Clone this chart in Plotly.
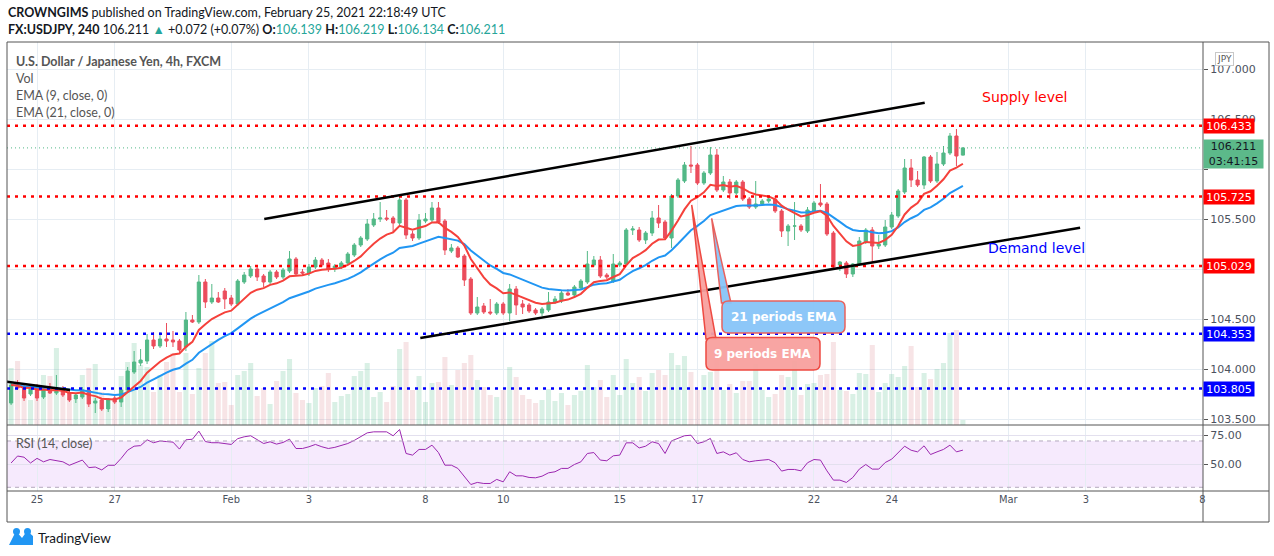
import pandas as pd
import plotly.graph_objects as go

# bar index: 0 = first 4h bar of Jan 25 (6 bars per trading day)
bars = list(range(-4, 144))

opens = [103.66, 103.84, 103.82, 103.75,
         103.82, 103.72, 103.81, 103.76, 103.80, 103.76, 103.70, 103.72, 103.79, 103.66,
         103.69, 103.60, 103.71, 103.67, 103.79, 103.97, 104.06, 104.08, 104.29, 104.23,
         104.30, 104.29, 104.28, 104.22, 104.49, 104.47, 104.87, 104.67, 104.71, 104.78,
         104.71, 104.65, 104.87, 104.93, 105.00, 104.93, 104.87, 104.97, 104.92, 104.98,
         105.10, 104.97, 104.96, 105.02, 105.09, 105.06, 105.00, 105.02, 105.06, 105.14,
         105.24, 105.30, 105.44, 105.50, 105.51, 105.51, 105.46, 105.69, 105.35, 105.31,
         105.48, 105.49, 105.61, 105.48, 105.18, 105.21, 105.13, 104.90, 104.56, 104.63,
         104.57, 104.56, 104.65, 104.56, 104.80, 104.65, 104.64, 104.59, 104.56, 104.59,
         104.67, 104.68, 104.76, 104.74, 104.81, 104.87, 105.04, 105.09, 104.94, 104.88,
         105.04, 105.05, 105.39, 105.39, 105.29, 105.36, 105.51, 105.47, 105.31, 105.73,
         105.88, 106.04, 106.04, 105.86, 105.96, 106.14, 105.79, 105.87, 105.76, 105.87,
         105.70, 105.62, 105.65, 105.68, 105.70, 105.58, 105.38, 105.43, 105.43, 105.38,
         105.58, 105.66, 105.65, 105.36, 105.04, 105.06, 104.95, 105.05, 105.27, 105.39,
         105.23, 105.24, 105.42, 105.53, 105.77, 106.01, 105.89, 105.84, 106.12, 105.88,
         106.05, 106.16, 106.33, 106.139]
highs = [103.86, 103.89, 103.84, 103.85,
         103.85, 103.82, 103.86, 103.94, 103.83, 103.78, 103.76, 103.82, 103.81, 103.71,
         103.71, 103.71, 103.73, 103.80, 104.02, 104.18, 104.20, 104.35, 104.37, 104.37,
         104.46, 104.38, 104.30, 104.57, 104.54, 104.94, 104.90, 104.85, 104.77, 104.81,
         104.74, 104.90, 104.97, 105.03, 105.02, 104.95, 104.99, 104.99, 105.01, 105.18,
         105.12, 105.00, 105.05, 105.12, 105.11, 105.10, 105.05, 105.08, 105.17, 105.26,
         105.33, 105.50, 105.56, 105.67, 105.59, 105.53, 105.74, 105.71, 105.38, 105.55,
         105.56, 105.67, 105.67, 105.50, 105.25, 105.23, 105.15, 104.92, 104.72, 104.66,
         104.70, 104.67, 104.67, 104.85, 104.83, 104.69, 104.66, 104.61, 104.62, 104.77,
         104.73, 104.79, 104.80, 104.84, 104.90, 105.18, 105.13, 105.13, 104.96, 105.15,
         105.08, 105.41, 105.43, 105.42, 105.38, 105.58, 105.64, 105.49, 105.75, 105.91,
         106.07, 106.23, 106.06, 105.98, 106.22, 106.20, 105.93, 105.90, 105.89, 105.89,
         105.72, 105.88, 105.70, 105.72, 105.73, 105.60, 105.45, 105.67, 105.45, 105.62,
         105.68, 105.85, 105.67, 105.38, 105.08, 105.08, 105.06, 105.32, 105.41, 105.42,
         105.34, 105.49, 105.57, 105.80, 106.10, 106.10, 105.98, 106.13, 106.14, 106.17,
         106.23, 106.36, 106.40, 106.219]
lows = [103.64, 103.79, 103.68, 103.73,
        103.68, 103.70, 103.75, 103.74, 103.72, 103.67, 103.66, 103.70, 103.62, 103.56,
        103.58, 103.57, 103.65, 103.62, 103.77, 103.95, 104.03, 104.05, 104.20, 104.21,
        104.22, 104.22, 104.16, 104.18, 104.46, 104.45, 104.61, 104.65, 104.66, 104.60,
        104.63, 104.63, 104.85, 104.91, 104.88, 104.82, 104.85, 104.90, 104.90, 104.96,
        104.93, 104.94, 104.93, 105.00, 105.02, 104.97, 104.97, 105.00, 105.04, 105.12,
        105.22, 105.28, 105.42, 105.47, 105.48, 105.36, 105.44, 105.30, 105.28, 105.29,
        105.46, 105.47, 105.45, 105.14, 105.16, 105.11, 104.83, 104.54, 104.54, 104.55,
        104.54, 104.54, 104.54, 104.48, 104.54, 104.55, 104.56, 104.54, 104.53, 104.57,
        104.65, 104.66, 104.73, 104.71, 104.79, 104.85, 105.02, 104.91, 104.90, 104.86,
        105.02, 105.03, 105.34, 105.27, 105.25, 105.33, 105.41, 105.29, 105.21, 105.71,
        105.86, 105.96, 105.84, 105.84, 105.94, 105.77, 105.77, 105.70, 105.74, 105.68,
        105.60, 105.60, 105.63, 105.66, 105.56, 105.32, 105.23, 105.29, 105.37, 105.36,
        105.56, 105.62, 105.33, 104.99, 104.98, 104.91, 104.92, 105.03, 105.25, 105.07,
        105.20, 105.22, 105.40, 105.51, 105.75, 105.82, 105.82, 105.80, 105.86, 105.86,
        106.03, 106.14, 106.03, 106.134]
closes = [103.84, 103.81, 103.71, 103.83,
          103.71, 103.80, 103.76, 103.80, 103.74, 103.69, 103.74, 103.79, 103.65, 103.68,
          103.60, 103.70, 103.67, 103.79, 103.98, 104.07, 104.09, 104.29, 104.23, 104.30,
          104.28, 104.27, 104.19, 104.49, 104.47, 104.87, 104.67, 104.71, 104.67, 104.70,
          104.65, 104.88, 104.94, 105.00, 104.92, 104.87, 104.97, 104.92, 104.99, 105.10,
          104.95, 104.96, 105.02, 105.09, 105.04, 105.00, 105.03, 105.06, 105.15, 105.24,
          105.31, 105.45, 105.50, 105.51, 105.50, 105.46, 105.69, 105.34, 105.31, 105.49,
          105.50, 105.61, 105.47, 105.19, 105.21, 105.12, 104.89, 104.56, 104.62, 104.57,
          104.56, 104.65, 104.56, 104.80, 104.64, 104.62, 104.58, 104.56, 104.60, 104.67,
          104.70, 104.76, 104.74, 104.82, 104.88, 105.05, 105.09, 104.93, 104.92, 105.05,
          105.06, 105.39, 105.40, 105.29, 105.36, 105.51, 105.46, 105.31, 105.73, 105.89,
          106.04, 106.03, 105.86, 105.96, 106.14, 105.79, 105.87, 105.76, 105.87, 105.70,
          105.62, 105.65, 105.68, 105.70, 105.58, 105.38, 105.43, 105.43, 105.39, 105.59,
          105.66, 105.64, 105.35, 105.02, 105.07, 104.95, 105.05, 105.28, 105.39, 105.23,
          105.25, 105.42, 105.54, 105.78, 106.01, 105.89, 105.84, 106.12, 105.88, 106.05,
          106.16, 106.33, 106.13, 106.211]
volumes = [57, 64, 30, 25,
           35, 50, 49, 77, 33, 25, 25, 50, 57, 61,
           33, 15, 25, 49, 63, 82, 60, 58, 33, 50,
           63, 72, 33, 72, 31, 57, 72, 84, 42, 43,
           20, 50, 54, 62, 29, 37, 21, 44, 54, 66,
           32, 25, 22, 37, 39, 52, 23, 29, 31, 49,
           54, 62, 28, 33, 23, 39, 76, 83, 35, 49,
           23, 42, 43, 68, 40, 55, 62, 70, 45, 38,
           30, 28, 35, 58, 48, 30, 26, 22, 25, 36,
           24, 32, 20, 30, 34, 60, 38, 45, 28, 50,
           30, 66, 42, 48, 34, 52, 55, 50, 72, 60,
           69, 53, 35, 50, 53, 78, 35, 41, 32, 44,
           44, 61, 35, 28, 31, 50, 48, 64, 30, 41,
           42, 50, 51, 83, 35, 34, 31, 52, 51, 80,
           33, 42, 51, 48, 59, 79, 38, 52, 46, 56,
           62, 92, 95, 5]
rsi = [51, 57, 56, 51,
       55, 52, 54, 53, 52, 49, 51, 53.5, 47, 47.5,
       45, 49, 49, 55, 62, 65.5, 66, 71, 68.5, 70,
       69.5, 69, 63, 71, 71.5, 78.5, 69.5, 68.5, 68.5, 68,
       67, 72, 73.6, 74.5, 71.3, 67.8, 69.3, 67.3, 68.7, 71.6,
       63.5, 63.5, 65, 67, 65, 63.5, 64.5, 66, 67.8, 70.5,
       73.6, 77, 77.9, 78, 77.9, 74.5, 79.9, 59.2, 57.8, 62.7,
       62.7, 66.4, 60, 49.1, 49.1, 46.3, 39.6, 32.4, 34.2, 33.3,
       33.3, 36.8, 34.7, 43.4, 39.9, 39.9, 38.5, 38.2, 39.6, 42.5,
       43.4, 46.3, 46.3, 49.7, 52, 59.2, 60, 53.5, 52.9, 57.2,
       57.8, 68.4, 68.4, 64, 65.5, 69.3, 67.8, 59.2, 70.1, 72.2,
       74.5, 75, 67.8, 69.3, 72.2, 59.2, 60.6, 57.8, 59.8, 54,
       52, 52.9, 53.5, 54, 51.2, 44, 45.4, 45.4, 44.2, 51.2,
       54, 53.5, 44.2, 36.2, 36.2, 34.2, 38.5, 45.7, 49.7, 45.7,
       45.7, 51.4, 54.3, 60, 65.5, 62, 60.6, 65.8, 58.3, 60.6,
       62.7, 66.4, 60.6, 62.1]

tick_pos = [0, 12, 30, 42, 60, 72, 90, 102, 120, 132, 150, 162, 180]
tick_text = ["25", "27", "Feb", "3", "8", "10", "15", "17", "22", "24", "Mar", "3", "8"]
price_ticks = [103.5, 104, 104.5, 105, 105.5, 106, 106.5, 107]
price_text = ["103.500", "104.000", "104.500", "", "105.500", "", "106.500", "107.000"]

supply_levels = [106.433, 105.725, 105.029]
demand_levels = [104.353, 103.805]
last_price = 106.211

# trend lines drawn on the chart: (bar, price) pairs
upper_channel = [(35.1, 105.50), (137.1, 106.663)]
lower_channel = [(59.2, 104.31), (161.1, 105.413)]
small_line = [(-4.7, 103.873), (5.1, 103.79)]

UP, DOWN = "#53b987", "#eb4d5c"

ema9 = pd.Series(closes).ewm(span=9, adjust=False).mean()
ema21 = pd.Series(closes).ewm(span=21, adjust=False).mean()

# page geometry (pixels)
L_PX, R_PX, T_PX, B_PX = 7, 1203, 42, 491
def px(x): return (x - L_PX) / (R_PX - L_PX)
def py(y): return (B_PX - y) / (B_PX - T_PX)
def bx(x): return (x - 37) / 6.475
def pr(y): return 107 - (y - 69) / 100

vol_colors = ["rgba(83,185,135,0.22)" if c >= o else "rgba(214,120,128,0.2)"
              for o, c in zip(opens, closes)]

fig = go.Figure()
fig.add_trace(go.Bar(x=bars, y=volumes, marker=dict(color=vol_colors, line_width=0),
                     width=0.78, xaxis="x2", yaxis="y", hoverinfo="skip"))
fig.add_trace(go.Candlestick(x=bars, open=opens, high=highs, low=lows, close=closes,
                             increasing=dict(line=dict(color=UP, width=1), fillcolor=UP),
                             decreasing=dict(line=dict(color=DOWN, width=1), fillcolor=DOWN),
                             whiskerwidth=0, xaxis="x2", yaxis="y2"))
fig.add_trace(go.Scatter(x=bars, y=ema21, mode="lines", line=dict(color="#2196f3", width=2),
                         xaxis="x2", yaxis="y2"))
fig.add_trace(go.Scatter(x=bars, y=ema9, mode="lines", line=dict(color="#f5413b", width=2),
                         xaxis="x2", yaxis="y2"))
fig.add_trace(go.Scatter(x=bars, y=rsi, mode="lines", line=dict(color="#9c27b0", width=1),
                         xaxis="x", yaxis="y3"))

grid = "#e6edf3"
axfont = dict(family="DejaVu Sans Condensed, Liberation Sans Narrow, Arial", size=11, color="#4c525e")
fig.update_layout(
    width=1274, height=556, showlegend=False,
    margin=dict(l=L_PX, r=1274 - R_PX, t=T_PX, b=556 - B_PX),
    paper_bgcolor="white", plot_bgcolor="white",
    xaxis=dict(domain=[0, 1], anchor="y3", range=[-4.633, 180.08], tickvals=tick_pos,
               ticktext=tick_text, showgrid=True, gridcolor=grid, zeroline=False,
               ticks="", tickfont=axfont, rangeslider=dict(visible=False), fixedrange=True),
    xaxis2=dict(domain=[0, 1], anchor="y", matches="x", tickvals=tick_pos, showticklabels=False,
                showgrid=True, gridcolor=grid, zeroline=False, rangeslider=dict(visible=False)),
    yaxis=dict(domain=[py(425), 1], anchor="x2", range=[0, 383], visible=False),
    yaxis2=dict(overlaying="y", anchor="x2", side="right", range=[pr(425), pr(42)],
                tickvals=price_ticks, ticktext=price_text,
                showgrid=True, gridcolor=grid, zeroline=False, ticks="outside", ticklen=4,
                tickcolor="#555", tickfont=dict(family="DejaVu Sans", size=11, color="#4c525e")),
    yaxis3=dict(domain=[0, py(425)], anchor="x", side="right", range=[26.8, 83.8],
                tickvals=[50, 75], tickformat=".2f", showgrid=True, gridcolor="#e3e0ee",
                zeroline=False, ticks="outside", ticklen=4, tickcolor="#555",
                tickfont=dict(family="DejaVu Sans", size=11, color="#4c525e")),
)

shapes = []
# RSI band
shapes.append(dict(type="rect", xref="x", yref="y3", x0=-4.633, x1=180.08, y0=30, y1=70,
                   fillcolor="rgba(170,60,240,0.11)", line_width=0, layer="below"))
for lv in (30, 70):
    shapes.append(dict(type="line", xref="x", yref="y3", x0=-4.633, x1=180.08, y0=lv, y1=lv,
                       line=dict(color="#b3a9bd", width=1, dash="4px,4px")))
# level lines
for lv in supply_levels:
    shapes.append(dict(type="line", xref="x2", yref="y2", x0=-4.633, x1=180.08, y0=lv, y1=lv,
                       line=dict(color="#ff0000", width=2.5, dash="3px,5px")))
for lv in demand_levels:
    shapes.append(dict(type="line", xref="x2", yref="y2", x0=-4.633, x1=180.08, y0=lv, y1=lv,
                       line=dict(color="#0000ff", width=2.5, dash="3px,5px")))
shapes.append(dict(type="line", xref="x2", yref="y2", x0=-4.633, x1=180.08, y0=last_price,
                   y1=last_price, line=dict(color=UP, width=1, dash="1px,3px")))
for ln in (upper_channel, lower_channel, small_line):
    shapes.append(dict(type="line", xref="x2", yref="y2", x0=ln[0][0], y0=ln[0][1],
                       x1=ln[1][0], y1=ln[1][1], line=dict(color="#000", width=2.5)))


def rounded_box(x0, x1, y0, y1, rx=1.0, ry=0.06):
    return (f"M{x0+rx},{y1} L{x1-rx},{y1} Q{x1},{y1} {x1},{y1-ry} L{x1},{y0+ry} "
            f"Q{x1},{y0} {x1-rx},{y0} L{x0+rx},{y0} Q{x0},{y0} {x0},{y0+ry} "
            f"L{x0},{y1-ry} Q{x0},{y1} {x0+rx},{y1} Z")


def wedge(tip, a, b):
    return (f"M{bx(tip[0])},{pr(tip[1])} L{bx(a[0])},{pr(a[1])} "
            f"L{bx(b[0])},{pr(b[1])} Z")


blue_fill, blue_edge = "rgba(135,196,248,0.95)", "#e8625e"
red_fill, red_edge = "rgba(248,160,158,0.95)", "#ee4a42"
shapes.append(dict(type="path", xref="x2", yref="y2", path=wedge((711.7, 218.3), (721.5, 303), (731, 303)),
                   fillcolor=blue_fill, line=dict(color=blue_edge, width=1.5)))
shapes.append(dict(type="path", xref="x2", yref="y2",
                   path=rounded_box(bx(722), bx(845), pr(333), pr(301)),
                   fillcolor=blue_fill, line=dict(color=blue_edge, width=1.5)))
shapes.append(dict(type="path", xref="x2", yref="y2", path=wedge((691.7, 205), (706, 339), (716, 339)),
                   fillcolor=red_fill, line=dict(color=red_edge, width=1.5)))
shapes.append(dict(type="path", xref="x2", yref="y2",
                   path=rounded_box(bx(706), bx(820), pr(370), pr(337.5)),
                   fillcolor=red_fill, line=dict(color=red_edge, width=1.5)))

# frame
frame = dict(color="#555", width=1)
for (x0, y0, x1, y1) in [(7, 42, 1269, 42), (7, 522, 1269, 522), (7, 42, 7, 522),
                         (1269, 42, 1269, 522), (1203, 42, 1203, 522),
                         (7, 425, 1269, 425), (7, 491, 1269, 491)]:
    shapes.append(dict(type="line", xref="paper", yref="paper", x0=px(x0), x1=px(x1),
                       y0=py(y0), y1=py(y1), line=frame))
# logo
shapes.append(dict(type="path", xref="paper", yref="paper",
                   path=f"M{px(9)},{py(545)} L{px(16)},{py(531)} L{px(22)},{py(538)} "
                        f"L{px(27)},{py(531)} L{px(33)},{py(536)} L{px(33)},{py(545)} Z",
                   fillcolor="#2196f3", line_width=0))
shapes.append(dict(type="circle", xref="paper", yref="paper", x0=px(13), x1=px(20),
                   y0=py(535), y1=py(528), fillcolor="#2196f3", line_width=0))
shapes.append(dict(type="circle", xref="paper", yref="paper", x0=px(24), x1=px(31),
                   y0=py(535), y1=py(528), fillcolor="#2196f3", line_width=0))
fig.update_layout(shapes=shapes)

ann = []
def text(x, y, s, size=12, color="#131722", family="Lato", anchor="left"):
    ann.append(dict(x=px(x), y=py(y), xref="paper", yref="paper", text=s, showarrow=False,
                    xanchor=anchor, yanchor="middle", font=dict(family=family, size=size, color=color)))

teal = "#26a69a"
text(6, 12, "<b>CROWNGIMS</b> published on TradingView.com, February 25, 2021 22:18:49 UTC", 12.5)
text(6, 29, f"<b>FX:USDJPY, 240</b> 106.211 <span style='color:{teal}'>▲</span> +0.072 (+0.07%) "
            f"<b>O:</b><span style='color:{teal}'>106.139</span> <b>H:</b><span style='color:{teal}'>106.219</span> "
            f"<b>L:</b><span style='color:{teal}'>106.134</span> <b>C:</b><span style='color:{teal}'>106.211</span>", 12.5)
text(14, 61, "<b>U.S. Dollar / Japanese Yen, 4h, FXCM</b>", 12.5, "#555")
text(14, 78, "Vol", 12.5, "#555")
text(14, 95, "EMA (9, close, 0)", 12.5, "#555")
text(14, 112, "EMA (21, close, 0)", 12.5, "#555")
text(14, 443, "RSI (14, close)", 12.5, "#555")
text(980, 97, "Supply level", 14, "#ff0000", "DejaVu Sans")
text(986, 248, "Demand level", 14, "#0000ff", "DejaVu Sans")
text(783.5, 317, "<b>21 periods EMA</b>", 12, "white", "DejaVu Sans", "center")
text(763, 354, "<b>9 periods EMA</b>", 12, "white", "DejaVu Sans", "center")
text(36, 538, "TradingView", 13.5, "#131722")

for lv in supply_levels + demand_levels:
    col = "#ff0000" if lv in supply_levels else "#0000ff"
    ann.append(dict(x=1, xref="paper", y=lv, yref="y2", text=f"{lv:.3f}", showarrow=False,
                    xanchor="left", yanchor="middle", align="center", bgcolor=col, width=50,
                    height=14, borderpad=0, font=dict(family="DejaVu Sans", size=11, color="white")))
ann.append(dict(x=1, xref="paper", y=106.15, yref="y2", text="106.211<br>03:41:15", showarrow=False,
                xanchor="left", yanchor="middle", align="center", bgcolor="#5cb98a", width=57,
                height=26, borderpad=1, font=dict(family="DejaVu Sans", size=11, color="#131722")))
ann.append(dict(x=px(1234), y=py(52), xref="paper", yref="paper", text="JPY", showarrow=False,
                bordercolor="#c8c8c8", borderwidth=1, borderpad=1,
                font=dict(family="DejaVu Sans", size=9, color="#555")))
fig.update_layout(annotations=ann)

fig.write_html("out.html", config={"displayModeBar": False},
               post_script="document.body.style.margin='0';")
